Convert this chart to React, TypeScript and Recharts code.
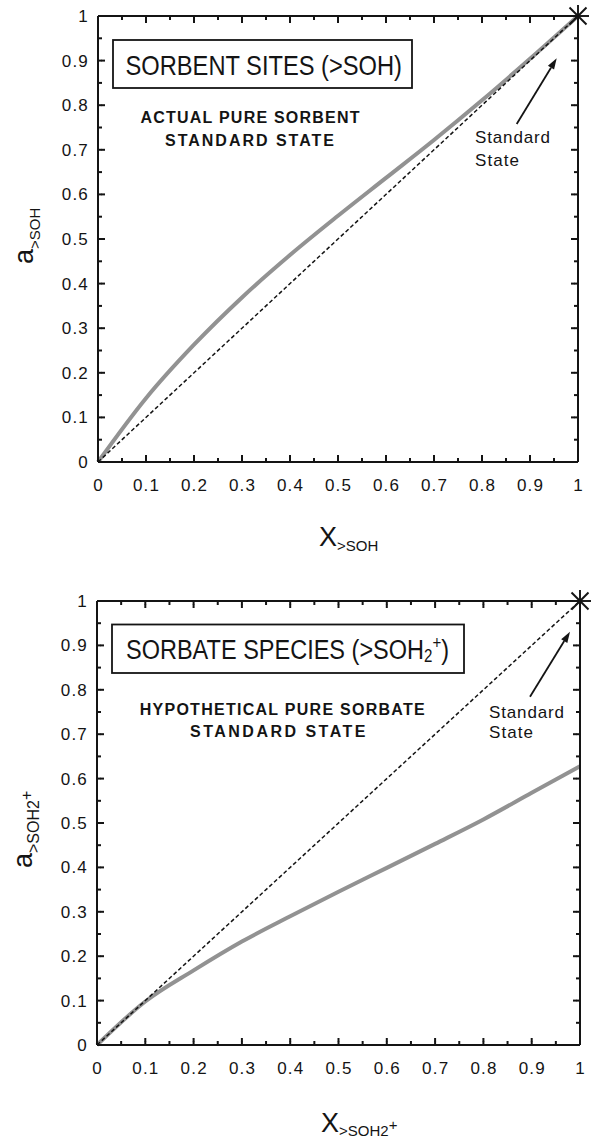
import React from 'react';
import { ComposedChart, Line, XAxis, YAxis, ReferenceDot } from 'recharts';

// mole fraction of the surface species
const moleFraction = [0, 0.1, 0.2, 0.3, 0.4, 0.5, 0.6, 0.7, 0.8, 0.9, 1];
// activity of sorbent sites >SOH (upper panel)
const sorbentActivity = [0, 0.143, 0.263, 0.369, 0.464, 0.552, 0.637, 0.722, 0.811, 0.904, 1];
// activity of sorbate species >SOH2+ (lower panel)
const sorbateActivity = [0, 0.098, 0.168, 0.233, 0.29, 0.345, 0.399, 0.453, 0.508, 0.568, 0.628];
// ideal line a = X
const idealX = [0, 1];
const idealA = [0, 1];
// standard state marker
const standardStateX = 1;
const standardStateA = 1;

const majorTicks = [0, 0.1, 0.2, 0.3, 0.4, 0.5, 0.6, 0.7, 0.8, 0.9, 1];
const minorTicks = [0.05, 0.15, 0.25, 0.35, 0.45, 0.55, 0.65, 0.75, 0.85, 0.95];
const allTicks = [...majorTicks, ...minorTicks].sort((a, b) => a - b);

const FONT = '"Liberation Sans", Arial, Helvetica, sans-serif';
const INK = '#141414';
const CURVE = '#929292';

const toRows = (xs: number[], ys: number[]) => xs.map((x, i) => ({ x, a: ys[i] }));

const isMajor = (v: number) => majorTicks.some((t) => Math.abs(t - v) < 1e-9);
const fmt = (v: number) => String(Math.round(v * 10) / 10);
const tickFont = { fontFamily: FONT, fontSize: 17, fill: INK, letterSpacing: 1.2 };
const MINOR = 4; // drawn by the axis itself, pointing inward
const EXTRA = 3; // added on major ticks

// x, y arrive on the axis line (tickMargin cancels the inward tick size)
const BottomTick = ({ x, y, payload }: any) => {
  const major = isMajor(payload.value);
  return (
    <g>
      {major && <line x1={x} x2={x} y1={y - MINOR + 0.5} y2={y - MINOR - EXTRA} stroke={INK} strokeWidth={2} />}
      {major && (
        <text x={x + 0.6} y={y + 29} textAnchor="middle" style={tickFont}>
          {fmt(payload.value)}
        </text>
      )}
    </g>
  );
};

const TopTick = ({ x, y, payload }: any) =>
  isMajor(payload.value) ? (
    <line x1={x} x2={x} y1={y + MINOR - 0.5} y2={y + MINOR + EXTRA} stroke={INK} strokeWidth={2} />
  ) : (
    <g />
  );

const LeftTick = ({ x, y, payload }: any) => {
  const major = isMajor(payload.value);
  return (
    <g>
      {major && <line x1={x + MINOR - 0.5} x2={x + MINOR + EXTRA} y1={y} y2={y} stroke={INK} strokeWidth={2} />}
      {major && (
        <text x={x - 9} y={y + 6} textAnchor="end" style={tickFont}>
          {fmt(payload.value)}
        </text>
      )}
    </g>
  );
};

const RightTick = ({ x, y, payload }: any) =>
  isMajor(payload.value) ? (
    <line x1={x - MINOR + 0.5} x2={x - MINOR - EXTRA} y1={y} y2={y} stroke={INK} strokeWidth={2} />
  ) : (
    <g />
  );

const Asterisk = ({ cx, cy }: any) => {
  const d = 8.5;
  return (
    <g stroke={INK} strokeWidth={1.9}>
      <line x1={cx - d} y1={cy - d} x2={cx + d} y2={cy + d} />
      <line x1={cx - d} y1={cy + d} x2={cx + d} y2={cy - d} />
      <line x1={cx} y1={cy - 11} x2={cx} y2={cy + 11} />
      <line x1={cx - 11} y1={cy} x2={cx + 11} y2={cy} />
    </g>
  );
};

const axisLine = { stroke: INK, strokeWidth: 2 };
const tickLine = { stroke: INK, strokeWidth: 2 };
const frame = {
  type: 'number' as const,
  domain: [0, 1],
  ticks: allTicks,
  interval: 0,
  tickSize: -MINOR,
  tickMargin: MINOR,
  tickLine,
  axisLine,
};

type PanelProps = {
  top: number;
  height: number;
  margin: { top: number; right: number; bottom: number; left: number };
  leftWidth: number;
  curve: number[];
};

// the dashed a = X line sits on the top/right axes so those get their ticks too
const Panel = ({ top, height, margin, leftWidth, curve }: PanelProps) => (
  <div style={{ position: 'absolute', left: 0, top }}>
    <ComposedChart width={600} height={height} margin={margin}>
      <XAxis xAxisId="b" dataKey="x" {...frame} tick={BottomTick} height={60} />
      <XAxis xAxisId="t" orientation="top" dataKey="x" {...frame} tick={TopTick} height={1} />
      <YAxis yAxisId="l" {...frame} tick={LeftTick} width={leftWidth} />
      <YAxis yAxisId="r" orientation="right" {...frame} tick={RightTick} width={1} />
      <Line xAxisId="b" yAxisId="l" data={toRows(moleFraction, curve)} dataKey="a" type="monotone"
        stroke={CURVE} strokeWidth={4} dot={false} isAnimationActive={false} />
      <Line xAxisId="t" yAxisId="r" data={toRows(idealX, idealA)} dataKey="a" type="linear"
        stroke={INK} strokeWidth={1.5} strokeDasharray="4 2.5" dot={false} isAnimationActive={false} />
      <ReferenceDot xAxisId="b" yAxisId="l" x={standardStateX} y={standardStateA} shape={Asterisk} />
    </ComposedChart>
  </div>
);

const arrow = (x1: number, y1: number, x2: number, y2: number) => {
  const len = Math.hypot(x2 - x1, y2 - y1);
  const ux = (x2 - x1) / len;
  const uy = (y2 - y1) / len;
  const bx = x2 - ux * 11;
  const by = y2 - uy * 11;
  const w = 3.6;
  return (
    <g>
      <line x1={x1} y1={y1} x2={bx} y2={by} stroke={INK} strokeWidth={1.8} />
      <polygon points={`${x2},${y2} ${bx - uy * w},${by + ux * w} ${bx + uy * w},${by - ux * w}`} fill={INK} />
    </g>
  );
};

const bold = { fontFamily: FONT, fontSize: 16, fontWeight: 700, fill: INK };
const plain = { fontFamily: FONT, fontSize: 17, fill: INK };
const title = { fontFamily: FONT, fontSize: 28, fill: INK };
const axisTitle = { fontFamily: FONT, fontSize: 27, fill: INK };

const Overlay = () => (
  <svg width={600} height={1138} style={{ position: 'absolute', left: 0, top: 0, pointerEvents: 'none' }}>
    {/* upper panel */}
    <rect x={113} y={40} width={299} height={48} fill="none" stroke={INK} strokeWidth={1.8} />
    <text transform="translate(125.5,75) scale(0.846,1)" style={title}>SORBENT SITES (&gt;SOH)</text>
    <text x={140.5} y={123} textLength={219} style={bold}>ACTUAL PURE SORBENT</text>
    <text x={165} y={145.5} textLength={169} style={bold}>STANDARD STATE</text>
    <text x={475} y={143} textLength={75} style={plain}>Standard</text>
    <text x={475} y={165.5} textLength={44} style={plain}>State</text>
    {arrow(516.7, 124, 556.7, 58.3)}
    <text x={319} y={546} style={axisTitle}>
      X<tspan fontSize={15} dy={5}>&gt;SOH</tspan>
    </text>
    <text x={-264} y={33} transform="rotate(-90)" style={axisTitle}>
      a<tspan fontSize={15} dy={7}>&gt;SOH</tspan>
    </text>

    {/* lower panel */}
    <rect x={112} y={624.5} width={352} height={48.5} fill="none" stroke={INK} strokeWidth={1.8} />
    <text transform="translate(126,659) scale(0.84,1)" style={title}>
      SORBATE SPECIES (&gt;SOH<tspan fontSize={18} dy={3}>2</tspan>
      <tspan fontSize={18} dy={-13}>+</tspan>
      <tspan dy={10}>)</tspan>
    </text>
    <text x={139.7} y={715} textLength={285} style={bold}>HYPOTHETICAL PURE SORBATE</text>
    <text x={190} y={736.7} textLength={175.5} style={bold}>STANDARD STATE</text>
    <text x={489} y={717.7} textLength={75} style={plain}>Standard</text>
    <text x={489} y={738.3} textLength={44} style={plain}>State</text>
    {arrow(530, 696.7, 570, 631.7)}
    <text x={321} y={1132} style={axisTitle}>
      X<tspan fontSize={15} dy={4}>&gt;SOH2</tspan>
      <tspan fontSize={15} dy={-6}>+</tspan>
    </text>
    <text x={-868} y={32} transform="rotate(-90)" style={axisTitle}>
      a<tspan fontSize={16} dy={7}>&gt;SOH2</tspan>
      <tspan fontSize={16} dy={-7}>+</tspan>
    </text>
  </svg>
);

export default function App() {
  return (
    <div style={{ position: 'absolute', left: 0, top: 0, width: 600, height: 1138, background: '#fff' }}>
      <Panel top={0} height={570} margin={{ top: 15, right: 21, bottom: 48, left: 0 }} leftWidth={98}
        curve={sorbentActivity} />
      <Panel top={570} height={568} margin={{ top: 30, right: 19, bottom: 33, left: 0 }} leftWidth={97}
        curve={sorbateActivity} />
      <Overlay />
    </div>
  );
}
